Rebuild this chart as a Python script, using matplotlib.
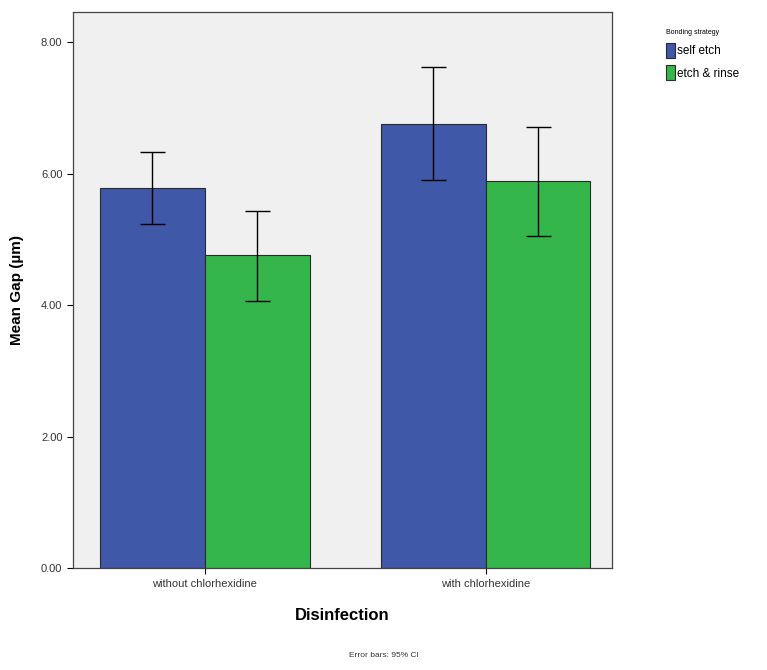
import numpy as np
import matplotlib.pyplot as plt

plt.rcParams['font.family'] = ['Liberation Sans', 'DejaVu Sans']

groups = ['without chlorhexidine', 'with chlorhexidine']
strategies = ['self etch', 'etch & rinse']
means = {
    'self etch': [5.79, 6.75],
    'etch & rinse': [4.76, 5.89],
}
ci_low = {
    'self etch': [5.23, 5.90],
    'etch & rinse': [4.06, 5.06],
}
ci_high = {
    'self etch': [6.33, 7.62],
    'etch & rinse': [5.44, 6.71],
}
colors = {'self etch': '#3f58a8', 'etch & rinse': '#35b64a'}

fig = plt.figure(figsize=(7.67, 6.70), dpi=100)
ax = fig.add_axes([0.095, 0.152, 0.703, 0.830])
ax.set_facecolor('#f0f0f0')

x = np.arange(len(groups))
w = 0.373
for i, s in enumerate(strategies):
    pos = x + (i - 0.5) * w
    m = np.array(means[s])
    lo = m - np.array(ci_low[s])
    hi = np.array(ci_high[s]) - m
    ax.bar(pos, m, width=w, color=colors[s], edgecolor='#2a2a2a', linewidth=0.8,
           label=s, zorder=2)
    ax.errorbar(pos, m, yerr=[lo, hi], fmt='none', ecolor='black', elinewidth=1.0,
                capsize=9, capthick=1.0, zorder=3)

ax.set_xlim(-0.47, 1.45)
ax.set_ylim(0, 8.46)
ax.set_yticks([0, 2, 4, 6, 8])
ax.set_yticklabels(['%.2f' % v for v in [0, 2, 4, 6, 8]], fontsize=8, color='#333333')
ax.set_xticks(x)
ax.set_xticklabels(groups, fontsize=8, color='#333333')
ax.tick_params(direction='out', length=4, width=0.8)
for sp in ax.spines.values():
    sp.set_color('#444444')
    sp.set_linewidth(0.9)

ax.set_ylabel('Mean Gap (\u00b5m)', fontsize=11, fontweight='bold', labelpad=12)
ax.set_xlabel('Disinfection', fontsize=12, fontweight='bold', labelpad=14)

leg = ax.legend(title='Bonding strategy', loc='upper left', bbox_to_anchor=(1.10, 0.97),
                frameon=False, fontsize=8.5, title_fontsize=5, handlelength=0.8,
                handleheight=1.6, handletextpad=0.1, labelspacing=0.6, borderaxespad=0,
                borderpad=0)
leg._legend_box.align = 'left'

fig.text(0.50, 0.02, 'Error bars: 95% CI', fontsize=6, ha='center', color='#333333')

fig.savefig('out.png', dpi=100)
